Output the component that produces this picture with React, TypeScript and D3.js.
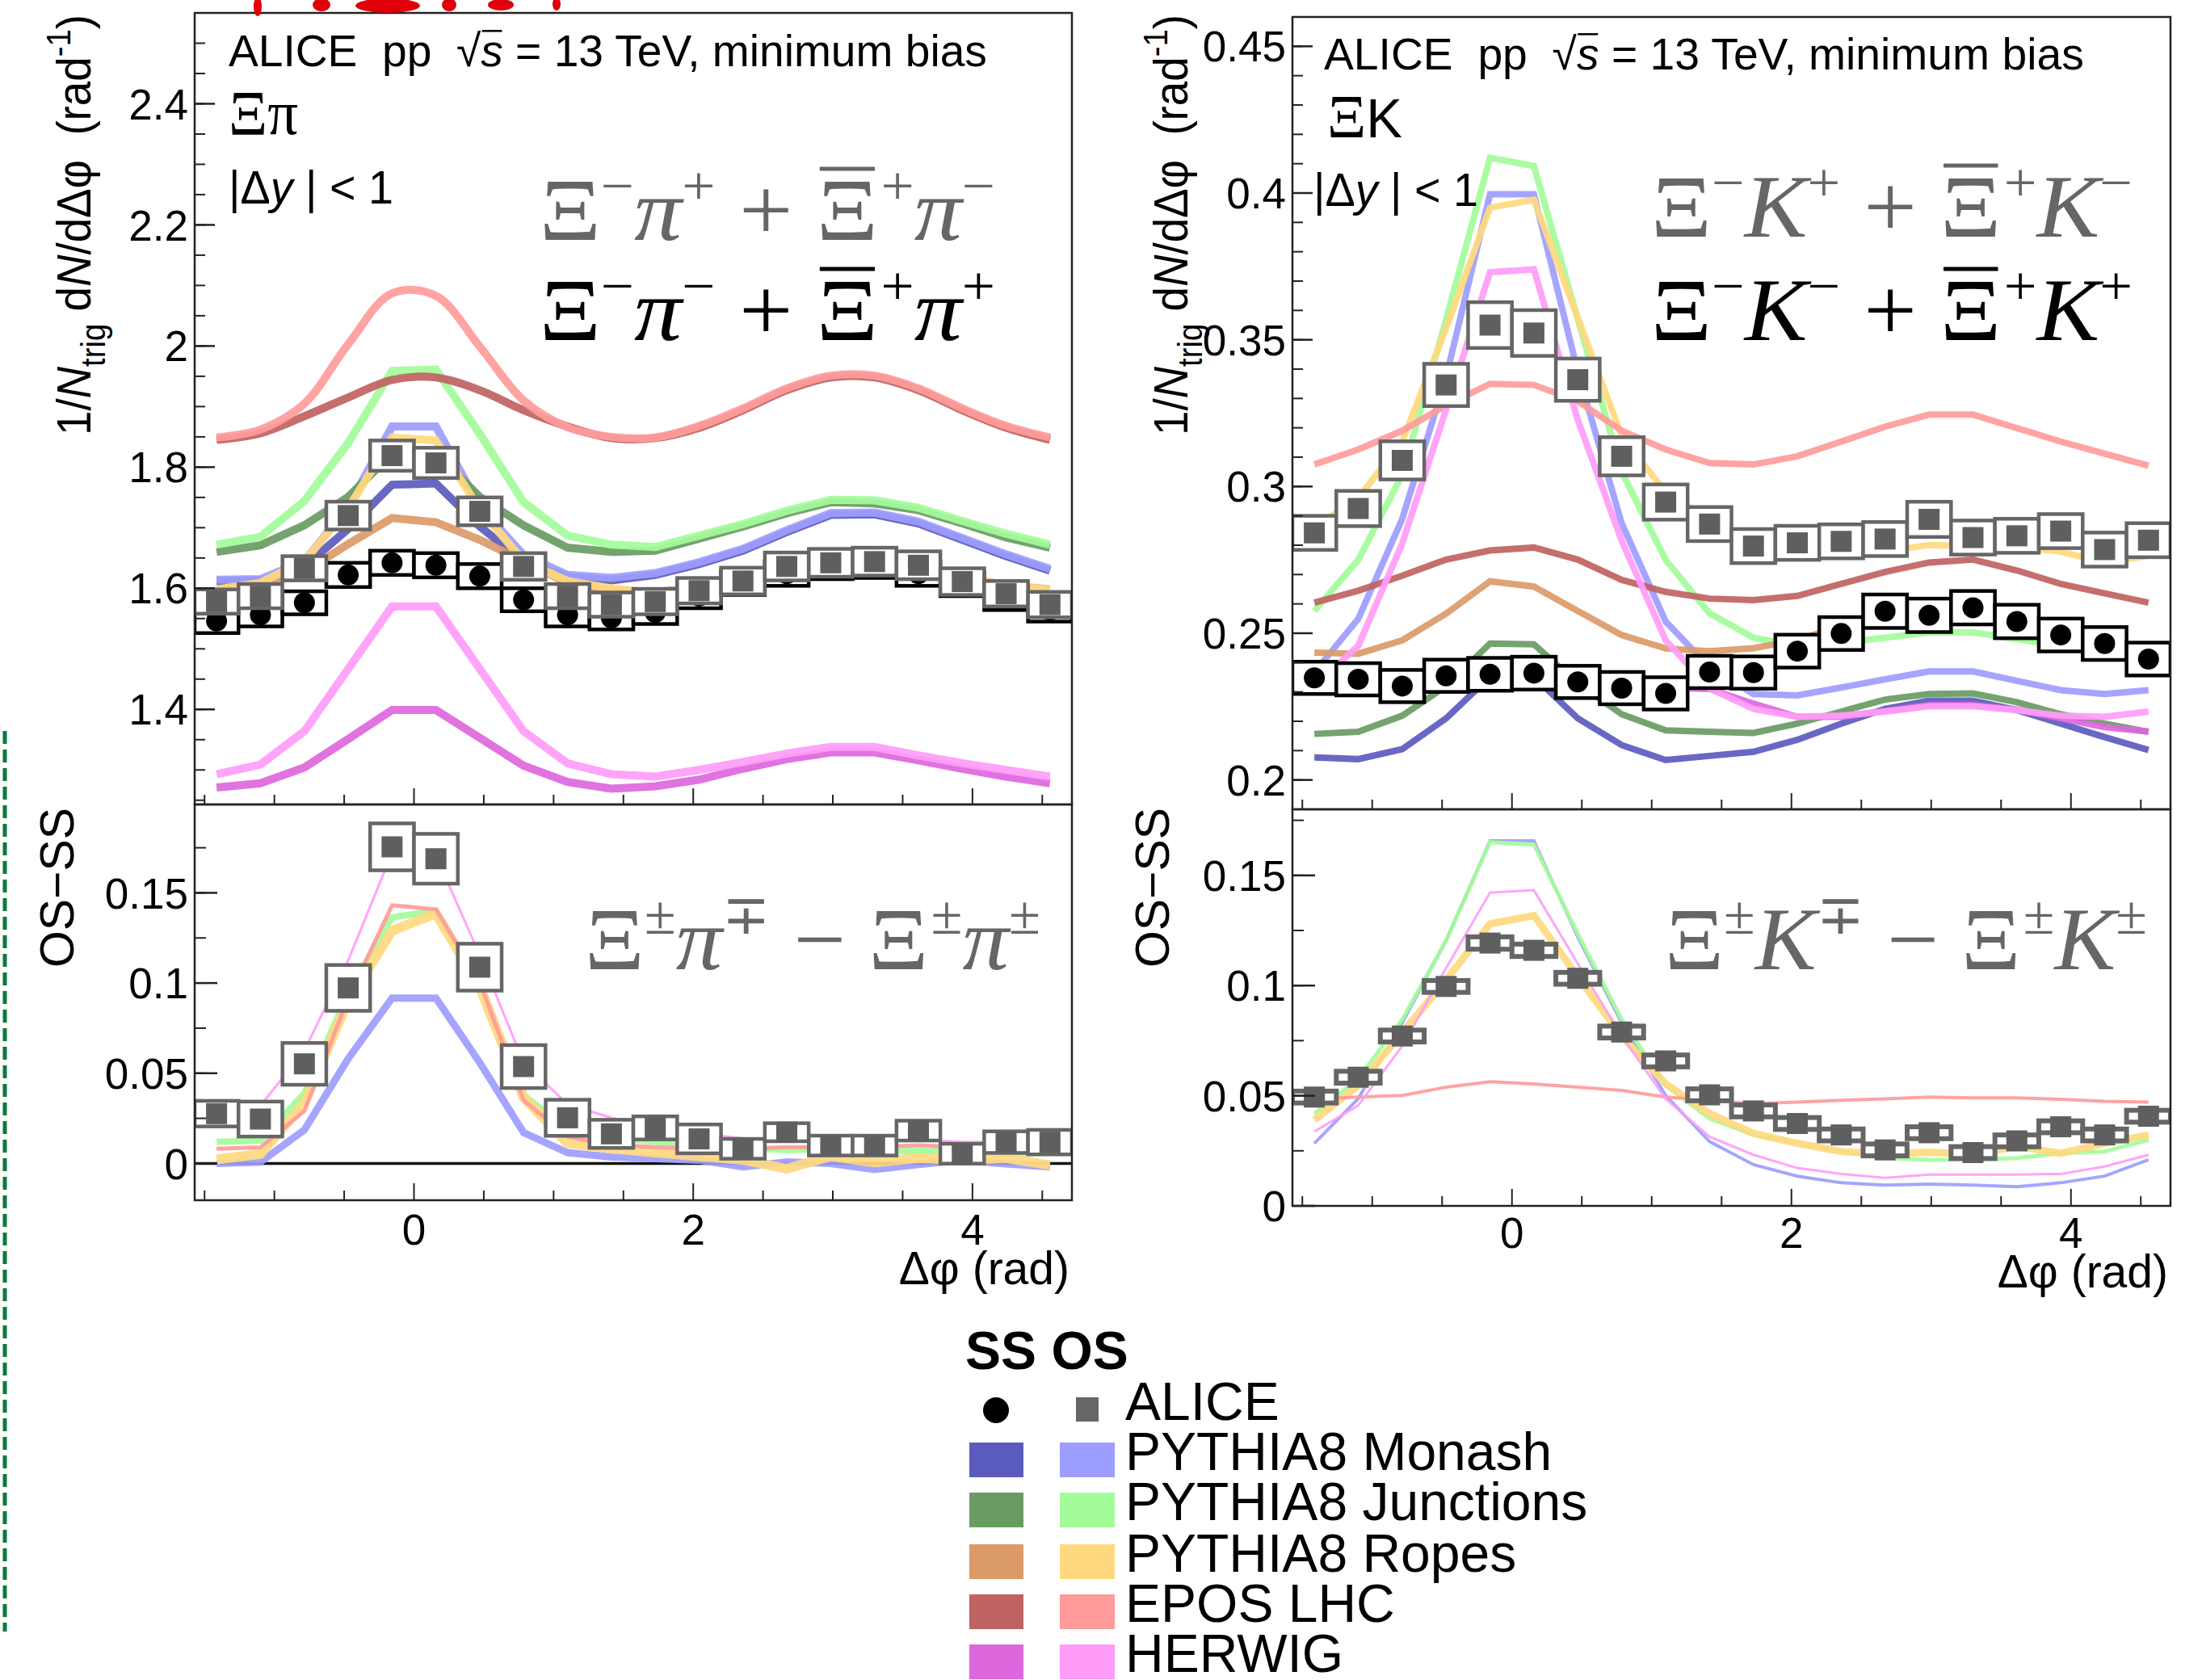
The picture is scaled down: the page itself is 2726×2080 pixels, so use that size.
import React, { useRef, useEffect } from "react";
import * as d3 from "d3";

// bin centres (rad)
const DPHI = [-1.414, -1.100, -0.785, -0.471, -0.157, 0.157, 0.471, 0.785, 1.100, 1.414,
  1.728, 2.042, 2.356, 2.670, 2.985, 3.299, 3.613, 3.927, 4.241, 4.555];
const BIN_HALF = 0.157;

// ---- Xi pi, same sign / opposite sign ----
const piAliceSS = [1.546, 1.556, 1.576, 1.622, 1.642, 1.638, 1.620, 1.581, 1.556, 1.551, 1.560, 1.587, 1.609, 1.624, 1.636, 1.638, 1.624, 1.607, 1.584, 1.564];
const piAliceSSsys = [0.020, 0.019, 0.019, 0.020, 0.020, 0.020, 0.020, 0.019, 0.019, 0.019, 0.019, 0.020, 0.020, 0.020, 0.021, 0.021, 0.020, 0.020, 0.020, 0.019];
const piAliceOS = [1.578, 1.587, 1.633, 1.720, 1.819, 1.807, 1.727, 1.636, 1.587, 1.573, 1.578, 1.596, 1.612, 1.636, 1.642, 1.644, 1.638, 1.611, 1.591, 1.573];
const piAliceOSsys = [0.020, 0.020, 0.020, 0.023, 0.025, 0.025, 0.023, 0.022, 0.020, 0.020, 0.021, 0.021, 0.022, 0.023, 0.023, 0.023, 0.023, 0.022, 0.021, 0.021];

const piMonashSS = [1.612, 1.612, 1.636, 1.698, 1.771, 1.773, 1.702, 1.644, 1.618, 1.613, 1.622, 1.640, 1.662, 1.693, 1.721, 1.722, 1.707, 1.680, 1.653, 1.629];
const piMonashOS = [1.614, 1.615, 1.645, 1.735, 1.867, 1.867, 1.735, 1.655, 1.622, 1.617, 1.625, 1.643, 1.665, 1.696, 1.724, 1.725, 1.710, 1.683, 1.656, 1.632];
const piJuncSS = [1.660, 1.671, 1.704, 1.751, 1.822, 1.822, 1.751, 1.704, 1.667, 1.660, 1.662, 1.682, 1.702, 1.724, 1.742, 1.740, 1.729, 1.707, 1.684, 1.667];
const piJuncOS = [1.672, 1.685, 1.744, 1.840, 1.959, 1.961, 1.855, 1.742, 1.687, 1.672, 1.668, 1.687, 1.706, 1.728, 1.746, 1.745, 1.733, 1.711, 1.690, 1.672];
const piRopesSS = [1.598, 1.604, 1.627, 1.673, 1.716, 1.709, 1.680, 1.644, 1.609, 1.596, 1.594, 1.600, 1.612, 1.630, 1.643, 1.645, 1.636, 1.618, 1.605, 1.598];
const piRopesOS = [1.598, 1.609, 1.645, 1.732, 1.849, 1.844, 1.730, 1.645, 1.612, 1.600, 1.592, 1.600, 1.615, 1.633, 1.645, 1.646, 1.637, 1.620, 1.605, 1.597];
const piEposSS = [1.845, 1.856, 1.884, 1.915, 1.944, 1.948, 1.927, 1.894, 1.867, 1.848, 1.848, 1.865, 1.894, 1.927, 1.948, 1.948, 1.927, 1.894, 1.865, 1.845];
const piEposOS = [1.849, 1.862, 1.905, 2.003, 2.087, 2.083, 1.999, 1.910, 1.866, 1.850, 1.849, 1.868, 1.897, 1.930, 1.951, 1.951, 1.930, 1.897, 1.868, 1.849];
const piHerwigSS = [1.271, 1.278, 1.304, 1.351, 1.399, 1.399, 1.353, 1.307, 1.280, 1.269, 1.273, 1.284, 1.302, 1.318, 1.329, 1.329, 1.316, 1.302, 1.289, 1.278];
const piHerwigOS = [1.293, 1.309, 1.364, 1.467, 1.570, 1.570, 1.467, 1.364, 1.311, 1.293, 1.289, 1.300, 1.313, 1.327, 1.338, 1.338, 1.324, 1.311, 1.300, 1.289];

// ---- Xi pi, OS - SS ----
const piAliceDiff = [0.0276, 0.0246, 0.0552, 0.0973, 0.1755, 0.1689, 0.1088, 0.0537, 0.0253, 0.0164, 0.0197, 0.0136, 0.0081, 0.0173, 0.0099, 0.0099, 0.0182, 0.0054, 0.0118, 0.0118];
const piAliceDiffSys = [0.0071, 0.0097, 0.0116, 0.0127, 0.0130, 0.0138, 0.0130, 0.0119, 0.0100, 0.0078, 0.0064, 0.0080, 0.0055, 0.0050, 0.0055, 0.0055, 0.0055, 0.0055, 0.0060, 0.0068];
const piMonashDiff = [0.0000, 0.0007, 0.0186, 0.0581, 0.0917, 0.0917, 0.0559, 0.0171, 0.0060, 0.0036, 0.0027, 0.0018, -0.0019, 0.0009, 0.0000, -0.0034, -0.0006, 0.0018, -0.0003, -0.0019];
const piJuncDiff = [0.0119, 0.0127, 0.0388, 0.0947, 0.1364, 0.1401, 0.1006, 0.0380, 0.0186, 0.0142, 0.0120, 0.0100, 0.0085, 0.0075, 0.0080, 0.0065, 0.0070, 0.0065, 0.0055, 0.0060];
const piRopesDiff = [0.0022, 0.0052, 0.0335, 0.0902, 0.1290, 0.1386, 0.0976, 0.0365, 0.0112, 0.0082, 0.0060, 0.0040, 0.0020, -0.0030, 0.0040, 0.0005, 0.0030, 0.0020, 0.0030, -0.0010];
const piEposDiff = [0.0082, 0.0089, 0.0291, 0.0917, 0.1431, 0.1409, 0.1006, 0.0350, 0.0149, 0.0104, 0.0090, 0.0080, 0.0080, 0.0090, 0.0090, 0.0090, 0.0100, 0.0090, 0.0100, 0.0090];
const piHerwigDiff = [0.0209, 0.0320, 0.0626, 0.1126, 0.1722, 0.1707, 0.1155, 0.0559, 0.0328, 0.0253, 0.0200, 0.0165, 0.0140, 0.0130, 0.0120, 0.0120, 0.0130, 0.0120, 0.0120, 0.0120];

// ---- Xi K, same sign / opposite sign ----
const kAliceSS = [0.2348, 0.2343, 0.2320, 0.2355, 0.2360, 0.2364, 0.2334, 0.2313, 0.2295, 0.2368, 0.2366, 0.2439, 0.2499, 0.2575, 0.2561, 0.2587, 0.2540, 0.2494, 0.2465, 0.2412];
const kAliceSSsys = [0.0055, 0.0055, 0.0055, 0.0055, 0.0056, 0.0056, 0.0055, 0.0055, 0.0055, 0.0055, 0.0055, 0.0056, 0.0056, 0.0057, 0.0057, 0.0057, 0.0057, 0.0056, 0.0056, 0.0056];
const kAliceOS = [0.2842, 0.2925, 0.3089, 0.3346, 0.3550, 0.3523, 0.3364, 0.3103, 0.2947, 0.2872, 0.2797, 0.2808, 0.2813, 0.2821, 0.2888, 0.2826, 0.2832, 0.2848, 0.2785, 0.2817];
const kAliceOSsys = [0.0058, 0.0060, 0.0065, 0.0072, 0.0078, 0.0078, 0.0072, 0.0065, 0.0060, 0.0058, 0.0058, 0.0058, 0.0058, 0.0058, 0.0060, 0.0058, 0.0058, 0.0058, 0.0058, 0.0058];

const kMonashSS = [0.2077, 0.2071, 0.2105, 0.2210, 0.2352, 0.2352, 0.2210, 0.2119, 0.2068, 0.2082, 0.2096, 0.2137, 0.2192, 0.2242, 0.2270, 0.2270, 0.2238, 0.2192, 0.2146, 0.2102];
const kMonashOS = [0.2367, 0.2549, 0.2890, 0.3373, 0.3996, 0.3996, 0.3391, 0.2875, 0.2540, 0.2384, 0.2293, 0.2288, 0.2315, 0.2343, 0.2370, 0.2370, 0.2338, 0.2306, 0.2293, 0.2306];
const kJuncSS = [0.2157, 0.2164, 0.2219, 0.2320, 0.2465, 0.2462, 0.2329, 0.2224, 0.2169, 0.2164, 0.2160, 0.2192, 0.2233, 0.2274, 0.2293, 0.2295, 0.2265, 0.2224, 0.2192, 0.2164];
const kJuncOS = [0.2576, 0.2750, 0.3040, 0.3570, 0.4120, 0.4092, 0.3570, 0.3050, 0.2750, 0.2568, 0.2485, 0.2457, 0.2467, 0.2485, 0.2503, 0.2503, 0.2480, 0.2457, 0.2439, 0.2430];
const kRopesSS = [0.2434, 0.2430, 0.2476, 0.2567, 0.2677, 0.2659, 0.2576, 0.2494, 0.2448, 0.2439, 0.2449, 0.2476, 0.2526, 0.2549, 0.2558, 0.2553, 0.2531, 0.2494, 0.2457, 0.2435];
const kRopesOS = [0.2860, 0.2961, 0.3153, 0.3540, 0.3950, 0.3977, 0.3575, 0.3172, 0.2979, 0.2888, 0.2769, 0.2764, 0.2769, 0.2778, 0.2801, 0.2796, 0.2796, 0.2778, 0.2741, 0.2764];
const kEposSS = [0.2604, 0.2645, 0.2696, 0.2751, 0.2782, 0.2792, 0.2751, 0.2682, 0.2641, 0.2618, 0.2613, 0.2627, 0.2668, 0.2709, 0.2741, 0.2751, 0.2714, 0.2668, 0.2636, 0.2604];
const kEposOS = [0.3075, 0.3126, 0.3190, 0.3277, 0.3350, 0.3346, 0.3291, 0.3190, 0.3126, 0.3080, 0.3075, 0.3103, 0.3153, 0.3204, 0.3245, 0.3245, 0.3199, 0.3153, 0.3112, 0.3071];
const kHerwigSS = [0.2310, 0.2315, 0.2320, 0.2335, 0.2350, 0.2350, 0.2335, 0.2320, 0.2315, 0.2310, 0.2260, 0.2215, 0.2215, 0.2235, 0.2255, 0.2255, 0.2240, 0.2210, 0.2180, 0.2165];
const kHerwigOS = [0.2320, 0.2457, 0.2806, 0.3263, 0.3730, 0.3740, 0.3227, 0.2815, 0.2476, 0.2312, 0.2242, 0.2215, 0.2219, 0.2233, 0.2251, 0.2251, 0.2238, 0.2219, 0.2215, 0.2233];

// ---- Xi K, OS - SS ----
const kAliceDiff = [0.0494, 0.0584, 0.0771, 0.0996, 0.1193, 0.1160, 0.1033, 0.0789, 0.0658, 0.0504, 0.0431, 0.0374, 0.0322, 0.0254, 0.0332, 0.0242, 0.0295, 0.0359, 0.0322, 0.0407];
const kAliceDiffSys = [0.0027, 0.0027, 0.0027, 0.0027, 0.0028, 0.0028, 0.0027, 0.0027, 0.0027, 0.0027, 0.0027, 0.0027, 0.0027, 0.0027, 0.0027, 0.0027, 0.0027, 0.0027, 0.0027, 0.0027];
const kMonashDiff = [0.0284, 0.0487, 0.0831, 0.1205, 0.1657, 0.1657, 0.1220, 0.0831, 0.0501, 0.0292, 0.0187, 0.0135, 0.0105, 0.0094, 0.0099, 0.0094, 0.0087, 0.0105, 0.0135, 0.0209];
const kJuncDiff = [0.0419, 0.0577, 0.0846, 0.1205, 0.1651, 0.1640, 0.1235, 0.0846, 0.0546, 0.0397, 0.0322, 0.0284, 0.0247, 0.0217, 0.0209, 0.0209, 0.0217, 0.0239, 0.0247, 0.0299];
const kRopesDiff = [0.0390, 0.0546, 0.0786, 0.1025, 0.1280, 0.1318, 0.1040, 0.0771, 0.0554, 0.0419, 0.0329, 0.0284, 0.0247, 0.0235, 0.0244, 0.0235, 0.0269, 0.0239, 0.0284, 0.0322];
const kEposDiff = [0.0486, 0.0494, 0.0501, 0.0539, 0.0564, 0.0554, 0.0539, 0.0524, 0.0494, 0.0479, 0.0464, 0.0471, 0.0479, 0.0486, 0.0494, 0.0490, 0.0490, 0.0484, 0.0475, 0.0471];
const kHerwigDiff = [0.0337, 0.0456, 0.0726, 0.1080, 0.1422, 0.1433, 0.1100, 0.0771, 0.0486, 0.0314, 0.0232, 0.0172, 0.0145, 0.0127, 0.0142, 0.0142, 0.0142, 0.0145, 0.0179, 0.0232];

const MODEL_NAMES = ["PYTHIA8 Monash", "PYTHIA8 Junctions", "PYTHIA8 Ropes", "EPOS LHC", "HERWIG"];
const SS_COLORS = ["#5b5bbf", "#699b63", "#dc9a68", "#c06262", "#dd67dd"];
const OS_COLORS = ["#9d9dff", "#a3fc9a", "#ffd97f", "#ff9b9b", "#ff9cf9"];

const SANS = "'Liberation Sans', Arial, Helvetica, sans-serif";
const SERIF = "'Liberation Serif', 'Times New Roman', serif";
const GREY = "#666666";

// lay out a row of text pieces, measuring each one
function rich(g, parts, x, y, size, color, family, target?) {
  const row = g.append("g");
  let cx = x;
  parts.forEach((p) => {
    const fs = size * (p.s || 1);
    cx += (p.dx || 0) * size;
    const el = row.append("text")
      .attr("x", cx)
      .attr("y", y + (p.dy || 0) * size)
      .attr("xml:space", "preserve")
      .style("white-space", "pre")
      .attr("font-family", p.ff || family)
      .attr("font-size", fs)
      .attr("font-style", p.it ? "italic" : "normal")
      .attr("font-weight", p.fw || "normal")
      .attr("fill", color)
      .text(p.t);
    const w = el.node().getComputedTextLength();
    if (p.bar) {
      row.append("line")
        .attr("x1", cx + w * 0.05).attr("x2", cx + w * 0.95)
        .attr("y1", y - fs * (p.barH || 0.78)).attr("y2", y - fs * (p.barH || 0.78))
        .attr("stroke", color).attr("stroke-width", Math.max(2.5, fs * 0.045));
    }
    cx += w;
  });
  const width = cx - x;
  if (target) {
    const k = target / width;
    row.attr("transform", `translate(${x},0) scale(${k},1) translate(${-x},0)`);
    return target;
  }
  return width;
}

const SUP = { s: 0.62, dy: -0.4 };

function formula(g, x, y, color, first, sign1, second, sign2, target) {
  // e.g.  Xi^- pi^+  +  anti-Xi^+ pi^-
  const parts = [
    { t: "Ξ", ff: SERIF },
    { t: first[0], ...SUP, ff: SERIF },
    { t: second.p, it: true, ff: SERIF },
    { t: first[1], ...SUP, ff: SERIF },
    { t: sign1, ff: SERIF },
    { t: "Ξ", ff: SERIF, bar: second.bar, barH: 0.8 },
    { t: sign2[0], ...SUP, ff: SERIF, dx: 0.03 },
    { t: second.p, it: true, ff: SERIF },
    { t: sign2[1], ...SUP, ff: SERIF },
  ];
  rich(g, parts, x, y, 110, color, SERIF, target);
}

export default function App() {
  const svgRef = useRef(null);

  useEffect(() => {
    const svg = d3.select(svgRef.current);
    svg.selectAll("*").remove();
    svg.append("rect").attr("width", 2726).attr("height", 2080).attr("fill", "#fff");

    const panels = [
      {
        x0: 241, x1: 1327, y0: 16, ym: 996, y1: 1486,
        up: [1.243, 2.55], lo: [-0.0204, 0.199],
        upMajor: [1.4, 1.6, 1.8, 2.0, 2.2, 2.4], upMinor: d3.range(1.25, 2.551, 0.05),
        upFmt: (v) => (Math.abs(v - 2) < 1e-9 ? "2" : v.toFixed(1)),
        loMajor: [0, 0.05, 0.1, 0.15], loMinor: d3.range(0, 0.19, 0.025),
        loFmt: (v) => (v === 0 ? "0" : String(+v.toFixed(2))),
        aliceSS: piAliceSS, ssSys: piAliceSSsys, aliceOS: piAliceOS, osSys: piAliceOSsys,
        ss: [piMonashSS, piJuncSS, piRopesSS, piEposSS, piHerwigSS],
        os: [piMonashOS, piJuncOS, piRopesOS, piEposOS, piHerwigOS],
        upLW: [10, 10, 10, 10, 10], smooth: true,
        diff: piAliceDiff, diffSys: piAliceDiffSys,
        diffModels: [piMonashDiff, piJuncDiff, piRopesDiff, piEposDiff, piHerwigDiff],
        diffLW: [9, 8, 12, 5, 3], zeroLine: true,
        xLabY: 1541, titleY: 1590,
      },
      {
        x0: 1600, x1: 2687, y0: 21, ym: 1002, y1: 1493,
        up: [0.19, 0.46], lo: [0, 0.18],
        upMajor: [0.2, 0.25, 0.3, 0.35, 0.4, 0.45], upMinor: d3.range(0.19, 0.4601, 0.01),
        upFmt: (v) => String(+v.toFixed(2)),
        loMajor: [0, 0.05, 0.1, 0.15], loMinor: d3.range(0, 0.18, 0.025),
        loFmt: (v) => (v === 0 ? "0" : String(+v.toFixed(2))),
        aliceSS: kAliceSS, ssSys: kAliceSSsys, aliceOS: kAliceOS, osSys: kAliceOSsys,
        ss: [kMonashSS, kJuncSS, kRopesSS, kEposSS, kHerwigSS],
        os: [kMonashOS, kJuncOS, kRopesOS, kEposOS, kHerwigOS],
        upLW: [8, 8, 8, 8, 8], smooth: false,
        diff: kAliceDiff, diffSys: kAliceDiffSys,
        diffModels: [kMonashDiff, kJuncDiff, kRopesDiff, kEposDiff, kHerwigDiff],
        diffLW: [4, 5, 9, 4, 3], zeroLine: false,
        xLabY: 1545, titleY: 1594,
      },
    ];

    panels.forEach((p, pi) => {
      const x = d3.scaleLinear().domain([-Math.PI / 2, 1.5 * Math.PI]).range([p.x0, p.x1]);
      const yU = d3.scaleLinear().domain(p.up).range([p.ym, p.y0]);
      const yL = d3.scaleLinear().domain(p.lo).range([p.y1, p.ym]);
      const bw = x(BIN_HALF) - x(-BIN_HALF);

      // ---------- upper pad ----------
      const gu = svg.append("g");
      gu.append("defs").append("clipPath").attr("id", "cu" + pi)
        .append("rect").attr("x", p.x0).attr("y", p.y0).attr("width", p.x1 - p.x0).attr("height", p.ym - p.y0);
      const pu = gu.append("g").attr("clip-path", `url(#cu${pi})`);

      p.ss.forEach((arr, m) => {
        const curve = p.smooth && m === 3 ? d3.curveCatmullRom : d3.curveLinear;
        const line = d3.line().x((d, i) => x(DPHI[i])).y((d) => yU(d)).curve(curve);
        pu.append("path").attr("d", line(arr)).attr("fill", "none")
          .attr("stroke", SS_COLORS[m]).attr("stroke-width", p.upLW[m]).attr("stroke-opacity", 0.92);
        pu.append("path").attr("d", line(p.os[m])).attr("fill", "none")
          .attr("stroke", OS_COLORS[m]).attr("stroke-width", p.upLW[m]).attr("stroke-opacity", 0.92);
      });

      // SS boxes + circles
      pu.selectAll(".ssbox").data(p.aliceSS).enter().append("rect")
        .attr("x", (d, i) => x(DPHI[i]) - bw / 2).attr("width", bw)
        .attr("y", (d, i) => yU(d + p.ssSys[i])).attr("height", (d, i) => yU(d - p.ssSys[i]) - yU(d + p.ssSys[i]))
        .attr("fill", "#fff").attr("stroke", "#000").attr("stroke-width", 4.5);
      pu.selectAll(".ssdot").data(p.aliceSS).enter().append("circle")
        .attr("cx", (d, i) => x(DPHI[i])).attr("cy", (d) => yU(d)).attr("r", 13).attr("fill", "#000");
      // OS boxes + squares
      pu.selectAll(".osbox").data(p.aliceOS).enter().append("rect")
        .attr("x", (d, i) => x(DPHI[i]) - bw / 2).attr("width", bw)
        .attr("y", (d, i) => yU(d + p.osSys[i])).attr("height", (d, i) => yU(d - p.osSys[i]) - yU(d + p.osSys[i]))
        .attr("fill", "#fff").attr("stroke", GREY).attr("stroke-width", 4.5);
      pu.selectAll(".ossq").data(p.aliceOS).enter().append("rect")
        .attr("x", (d, i) => x(DPHI[i]) - 13).attr("y", (d) => yU(d) - 13)
        .attr("width", 26).attr("height", 26).attr("fill", "#5f5f5f");

      gu.append("rect").attr("x", p.x0).attr("y", p.y0).attr("width", p.x1 - p.x0).attr("height", p.ym - p.y0)
        .attr("fill", "none").attr("stroke", "#222").attr("stroke-width", 2.5);

      // y ticks upper
      p.upMinor.forEach((v) => {
        gu.append("line").attr("x1", p.x0).attr("x2", p.x0 + 13).attr("y1", yU(v)).attr("y2", yU(v))
          .attr("stroke", "#222").attr("stroke-width", 2);
      });
      p.upMajor.forEach((v) => {
        gu.append("line").attr("x1", p.x0).attr("x2", p.x0 + 25).attr("y1", yU(v)).attr("y2", yU(v))
          .attr("stroke", "#222").attr("stroke-width", 2.5);
        gu.append("text").attr("x", p.x0 - 8).attr("y", yU(v)).attr("dy", "0.36em")
          .attr("text-anchor", "end").attr("font-family", SANS).attr("font-size", 53).text(p.upFmt(v));
      });
      // x ticks on upper pad bottom
      d3.range(-1.5, 4.6, 0.5).forEach((v) => {
        const major = Math.abs(v % 2) < 1e-9;
        gu.append("line").attr("x1", x(v)).attr("x2", x(v)).attr("y1", p.ym).attr("y2", p.ym - (major ? 20 : 12))
          .attr("stroke", "#222").attr("stroke-width", 2);
      });

      // ---------- lower pad ----------
      const gl = svg.append("g");
      gl.append("defs").append("clipPath").attr("id", "cl" + pi)
        .append("rect").attr("x", p.x0).attr("y", p.ym).attr("width", p.x1 - p.x0).attr("height", p.y1 - p.ym);
      const pl = gl.append("g").attr("clip-path", `url(#cl${pi})`);

      if (p.zeroLine) {
        pl.append("line").attr("x1", p.x0).attr("x2", p.x1).attr("y1", yL(0)).attr("y2", yL(0))
          .attr("stroke", "#111").attr("stroke-width", 3.5);
      }
      p.diffModels.forEach((arr, m) => {
        const line = d3.line().x((d, i) => x(DPHI[i])).y((d) => yL(d));
        pl.append("path").attr("d", line(arr)).attr("fill", "none")
          .attr("stroke", OS_COLORS[m]).attr("stroke-width", p.diffLW[m]).attr("stroke-opacity", 0.92);
      });
      pl.selectAll(".dbox").data(p.diff).enter().append("rect")
        .attr("x", (d, i) => x(DPHI[i]) - bw / 2).attr("width", bw)
        .attr("y", (d, i) => yL(d + p.diffSys[i])).attr("height", (d, i) => yL(d - p.diffSys[i]) - yL(d + p.diffSys[i]))
        .attr("fill", "#fff").attr("stroke", GREY).attr("stroke-width", pi === 0 ? 4.5 : 6);
      pl.selectAll(".dsq").data(p.diff).enter().append("rect")
        .attr("x", (d, i) => x(DPHI[i]) - 13).attr("y", (d) => yL(d) - 13)
        .attr("width", 26).attr("height", 26).attr("fill", "#5f5f5f");

      gl.append("rect").attr("x", p.x0).attr("y", p.ym).attr("width", p.x1 - p.x0).attr("height", p.y1 - p.ym)
        .attr("fill", "none").attr("stroke", "#222").attr("stroke-width", 2.5);

      p.loMinor.forEach((v) => {
        gl.append("line").attr("x1", p.x0).attr("x2", p.x0 + 14).attr("y1", yL(v)).attr("y2", yL(v))
          .attr("stroke", "#222").attr("stroke-width", 2);
      });
      p.loMajor.forEach((v) => {
        gl.append("line").attr("x1", p.x0).attr("x2", p.x0 + 28).attr("y1", yL(v)).attr("y2", yL(v))
          .attr("stroke", "#222").attr("stroke-width", 2.5);
        gl.append("text").attr("x", p.x0 - 8).attr("y", yL(v)).attr("dy", "0.36em")
          .attr("text-anchor", "end").attr("font-family", SANS).attr("font-size", 53).text(p.loFmt(v));
      });
      d3.range(-1.5, 4.6, 0.5).forEach((v) => {
        const major = Math.abs(v % 2) < 1e-9;
        gl.append("line").attr("x1", x(v)).attr("x2", x(v)).attr("y1", p.y1).attr("y2", p.y1 - (major ? 21 : 12))
          .attr("stroke", "#222").attr("stroke-width", 2);
      });
      [0, 2, 4].forEach((v) => {
        gl.append("text").attr("x", x(v)).attr("y", p.xLabY).attr("text-anchor", "middle")
          .attr("font-family", SANS).attr("font-size", 53).text(String(v));
      });
      gl.append("text").attr("x", p.x1 - 3).attr("y", p.titleY).attr("text-anchor", "end")
        .attr("font-family", SANS).attr("font-size", 57).text("Δφ (rad)");
    });

    // ---------- texts ----------
    const t = svg.append("g");
    const header = [
      { t: "ALICE" }, { t: "  pp  " }, { t: "√" }, { t: "s", it: true, bar: true, barH: 0.78 },
      { t: " = 13 TeV, minimum bias" },
    ];
    rich(t, header, 283, 82, 56, "#000", SANS, 939);
    rich(t, header, 1639, 86, 56, "#000", SANS, 941);
    rich(t, [{ t: "Ξπ" }], 283, 166, 78, "#000", SERIF, 86);
    rich(t, [{ t: "Ξ", ff: SERIF, s: 1.12 }, { t: "K", ff: SANS }], 1643, 170, 68, "#000", SANS, 93);
    const dy = [{ t: "|Δ" }, { t: "y", it: true }, { t: " | < 1" }];
    rich(t, dy, 283, 252, 57, "#000", SANS, 204);
    rich(t, dy, 1626, 255, 57, "#000", SANS, 204);

    // big formulas
    formula(t, 668, 297, GREY, ["−", "+"], " + ", { p: "π", bar: true }, ["+", "−"], 564);
    formula(t, 668, 421, "#000", ["−", "−"], " + ", { p: "π", bar: true }, ["+", "+"], 564);
    formula(t, 2044, 293, GREY, ["−", "+"], " + ", { p: "K", bar: true }, ["+", "−"], 596);
    formula(t, 2044, 421, "#000", ["−", "−"], " + ", { p: "K", bar: true }, ["+", "+"], 596);
    formula(t, 724, 1200, GREY, ["±", "∓"], " − ", { p: "π", bar: false }, ["±", "±"], 564);
    formula(t, 2061, 1200, GREY, ["±", "∓"], " − ", { p: "K", bar: false }, ["±", "±"], 597);

    // y axis titles (rotated)
    const ytitle = [
      { t: "1/" }, { t: "N", it: true }, { t: "trig", s: 0.7, dy: 0.3 }, { t: " d" }, { t: "N", it: true },
      { t: "/dΔφ  (rad" }, { t: "-1", s: 0.7, dy: -0.42 }, { t: ")" },
    ];
    [[112, 18], [1470, 18]].forEach(([bx, top]) => {
      const g = t.append("g");
      const w = rich(g, ytitle, 0, 0, 60, "#000", SANS, 521);
      g.attr("transform", `translate(${bx},${top + w}) rotate(-90)`);
    });
    [[91, 1000], [1447, 1000]].forEach(([bx, top]) => {
      const g = t.append("g");
      const w = rich(g, [{ t: "OS−SS" }], 0, 0, 59, "#000", SANS, 198);
      g.attr("transform", `translate(${bx},${top + w}) rotate(-90)`);
    });

    // ---------- legend ----------
    const lg = svg.append("g");
    lg.append("text").attr("x", 1195).attr("y", 1695).attr("font-family", SANS).attr("font-weight", "bold")
      .attr("font-size", 66).text("SS OS");
    const rowsBase = [1758, 1820, 1882, 1946, 2008, 2070];
    lg.append("circle").attr("cx", 1233).attr("cy", 1746).attr("r", 16).attr("fill", "#000");
    lg.append("rect").attr("x", 1332).attr("y", 1730).attr("width", 28).attr("height", 30).attr("fill", GREY);
    ["ALICE", ...MODEL_NAMES].forEach((name, i) => {
      lg.append("text").attr("x", 1393).attr("y", rowsBase[i]).attr("font-family", SANS)
        .attr("font-size", 66).text(name);
      if (i > 0) {
        const top = rowsBase[i] - 34;
        lg.append("rect").attr("x", 1200).attr("y", top).attr("width", 67).attr("height", 43).attr("fill", SS_COLORS[i - 1]);
        lg.append("rect").attr("x", 1312).attr("y", top).attr("width", 68).attr("height", 43).attr("fill", OS_COLORS[i - 1]);
      }
    });

    // stray marks at the edges of the scanned figure
    const junk = svg.append("g");
    junk.append("line").attr("x1", 6).attr("x2", 6).attr("y1", 905).attr("y2", 2020)
      .attr("stroke", "#0b7a3b").attr("stroke-width", 5).attr("stroke-dasharray", "16 7");
    [[319, 8, 5, 12], [398, 6, 11, 8], [480, 7, 40, 9], [556, 6, 9, 8], [620, 6, 16, 7], [689, 5, 5, 8]]
      .forEach(([cx, cy, rx, ry]) => {
        junk.append("ellipse").attr("cx", cx).attr("cy", cy).attr("rx", rx).attr("ry", ry).attr("fill", "#e0000a");
      });
  }, []);

  return (
    <svg ref={svgRef} width={2726} height={2080}
      style={{ position: "absolute", left: 0, top: 0, background: "#fff" }} />
  );
}
